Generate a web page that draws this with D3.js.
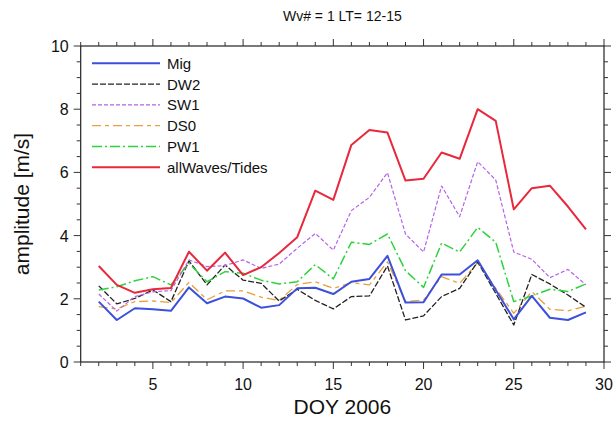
<!DOCTYPE html>
<html>
<head>
<meta charset="utf-8">
<script src="https://cdn.jsdelivr.net/npm/d3@7"></script>
<style>
  html, body { margin: 0; padding: 0; background: #fff; overflow: hidden; }
  .mysvg { display: block; }
  svg text { font-family: "Liberation Sans", Arial, sans-serif; fill: #111; }
</style>
</head>
<body>
<svg class="mysvg"></svg>
<script>
// DOY 2..29
const days = d3.range(2, 30);

const mig = [1.91, 1.33, 1.70, 1.67, 1.62, 2.36, 1.86, 2.07, 2.01, 1.72, 1.80, 2.33, 2.35, 2.15, 2.54, 2.63, 3.36, 1.88, 1.89, 2.77, 2.77, 3.22, 2.28, 1.35, 2.09, 1.40, 1.33, 1.57];
const dw2 = [2.41, 1.84, 2.01, 2.28, 1.91, 3.20, 2.44, 3.07, 2.59, 2.49, 1.93, 2.30, 1.95, 1.68, 2.07, 2.09, 3.04, 1.33, 1.46, 2.07, 2.33, 3.17, 2.17, 1.17, 2.77, 2.47, 2.12, 1.73];
const sw1 = [2.15, 1.61, 2.07, 2.22, 2.26, 3.23, 3.02, 3.05, 3.23, 2.96, 3.10, 3.60, 4.07, 3.54, 4.79, 5.21, 5.99, 4.05, 3.48, 5.57, 4.60, 6.34, 5.76, 3.48, 3.25, 2.67, 2.93, 2.44];
const ds0 = [1.75, 1.68, 1.91, 1.93, 1.88, 2.52, 1.97, 2.25, 2.25, 2.05, 1.95, 2.45, 2.54, 2.33, 2.51, 2.44, 3.17, 1.91, 1.96, 2.70, 2.49, 3.14, 2.33, 1.54, 2.23, 1.67, 1.62, 1.77];
const pw1 = [2.28, 2.38, 2.57, 2.70, 2.44, 3.12, 2.54, 2.86, 2.81, 2.59, 2.47, 2.54, 3.08, 2.63, 3.79, 3.72, 4.05, 2.89, 2.36, 3.76, 3.48, 4.26, 3.79, 1.91, 2.09, 2.30, 2.23, 2.47];
const allWaves = [3.04, 2.44, 2.19, 2.30, 2.34, 3.49, 2.89, 3.46, 2.75, 3.00, 3.45, 3.95, 5.42, 5.13, 6.87, 7.34, 7.26, 5.74, 5.80, 6.63, 6.43, 8.00, 7.63, 4.83, 5.50, 5.58, 4.92, 4.20];

const seriesNames = ["Mig", "DW2", "SW1", "DS0", "PW1", "allWaves/Tides"];
const seriesValues = [mig, dw2, sw1, ds0, pw1, allWaves];
const xTicks = [5, 10, 15, 20, 25, 30];
const yTicks = [0, 2, 4, 6, 8, 10];

const styles = [
  { color: "#3c50dc", width: 2, dash: null },
  { color: "#222222", width: 1.3, dash: "6,2" },
  { color: "#b464e6", width: 1.2, dash: "4,2" },
  { color: "#e6a03c", width: 1.3, dash: "9,4,4,4" },
  { color: "#2ed23c", width: 1.5, dash: "10,3,2,3" },
  { color: "#e8283c", width: 2, dash: null },
];

const width = 616, height = 425;
const margin = { top: 46, right: 12, bottom: 63, left: 80.7 };
const innerWidth = width - margin.left - margin.right,
  innerHeight = height - margin.top - margin.bottom;

const svg = d3.select(".mysvg").attr("width", width).attr("height", height);
const g = svg.append("g").attr("transform", `translate(${margin.left},${margin.top})`);

const xScale = d3.scaleLinear().domain([1, 30]).range([0, innerWidth]);
const yScale = d3.scaleLinear().domain([0, 10]).range([innerHeight, 0]);

// frame
g.append("rect")
  .attr("width", innerWidth).attr("height", innerHeight)
  .attr("fill", "none").attr("stroke", "#222").attr("stroke-width", 1.2);

// ticks, pointing outward on all four sides
const xMinor = d3.range(1, 31);
const yMinor = d3.range(0, 10.01, 0.5);
function addTicks(sel, values, major, orient) {
  values.forEach((v) => {
    const len = major.includes(v) ? 7 : 4;
    const line = sel.append("line").attr("stroke", "#333").attr("stroke-width", 1);
    if (orient === "bottom") line.attr("x1", xScale(v)).attr("x2", xScale(v)).attr("y1", innerHeight).attr("y2", innerHeight + len);
    if (orient === "top") line.attr("x1", xScale(v)).attr("x2", xScale(v)).attr("y1", 0).attr("y2", -len);
    if (orient === "left") line.attr("y1", yScale(v)).attr("y2", yScale(v)).attr("x1", 0).attr("x2", -len);
    if (orient === "right") line.attr("y1", yScale(v)).attr("y2", yScale(v)).attr("x1", innerWidth).attr("x2", innerWidth + len);
  });
}
const ticks = g.append("g").attr("class", "ticks");
addTicks(ticks, xMinor, xTicks, "bottom");
addTicks(ticks, xMinor, xTicks, "top");
addTicks(ticks, yMinor, yTicks, "left");
addTicks(ticks, yMinor, yTicks, "right");

// tick labels
g.selectAll(".xlab").data(xTicks).enter().append("text")
  .attr("x", (d) => xScale(d)).attr("y", innerHeight + 28)
  .attr("text-anchor", "middle").style("font-size", "16px").text((d) => d);
g.selectAll(".ylab").data(yTicks).enter().append("text")
  .attr("x", -12).attr("y", (d) => yScale(d) + 6)
  .attr("text-anchor", "end").style("font-size", "16px").text((d) => d);

// titles
svg.append("text").attr("x", margin.left + innerWidth / 2).attr("y", 21)
  .attr("text-anchor", "middle").style("font-size", "14px").text("Wv# = 1 LT= 12-15");
svg.append("text").attr("x", margin.left + innerWidth / 2).attr("y", 414)
  .attr("text-anchor", "middle").style("font-size", "21px").text("DOY 2006");
svg.append("text")
  .attr("transform", `translate(29,${margin.top + innerHeight / 2}) rotate(-90)`)
  .attr("text-anchor", "middle").style("font-size", "21px").text("amplitude [m/s]");

// lines
const line = d3.line().x((d, i) => xScale(days[i])).y((d) => yScale(d));
const order = [3, 1, 4, 2, 0, 5];
order.forEach((k) => {
  g.append("path").datum(seriesValues[k])
    .attr("fill", "none")
    .attr("stroke", styles[k].color)
    .attr("stroke-width", styles[k].width)
    .attr("stroke-dasharray", styles[k].dash)
    .attr("stroke-linejoin", "round")
    .attr("d", line);
});

// legend
const legend = svg.append("g").attr("class", "legend");
seriesNames.forEach((name, i) => {
  const y = 63.3 + i * 20.8;
  legend.append("line")
    .attr("x1", 92).attr("x2", 160).attr("y1", y).attr("y2", y)
    .attr("stroke", styles[i].color).attr("stroke-width", styles[i].width)
    .attr("stroke-dasharray", styles[i].dash);
  legend.append("text").attr("x", 167).attr("y", y + 5.5)
    .style("font-size", "15px").text(name);
});
</script>
</body>
</html>
